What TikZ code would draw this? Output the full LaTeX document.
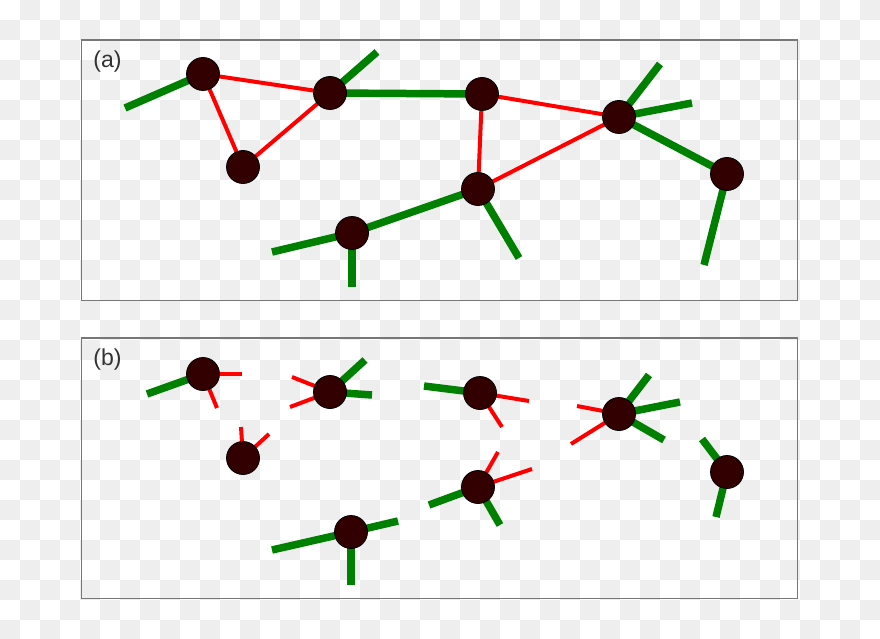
\documentclass[tikz,border=0pt]{standalone}
\usepackage{fontspec}
\setsansfont{Liberation Sans}
\definecolor{tilegray}{HTML}{EEEEEE}
\definecolor{framegray}{HTML}{777777}
\definecolor{atomred}{HTML}{330000}
\definecolor{bondgreen}{HTML}{008000}
\definecolor{bondred}{HTML}{FF0000}
\pgfdeclarelayer{board}
\pgfdeclarelayer{links}
\pgfsetlayers{board,links,main}

\begin{document}
\begin{tikzpicture}[x=1pt,y=-1pt]
\tikzset{atom/.style={circle,draw=black,fill=atomred,line width=0.8pt,minimum size=33pt,inner sep=0pt}}
\tikzset{strong/.style={draw=bondgreen,line width=7.5pt}}
\tikzset{weak/.style={draw=bondred,line width=4pt}}
\tikzset{panel/.style={draw=framegray,line width=1.5pt}}
\tikzset{tag/.style={font=\sffamily\fontsize{23}{23}\selectfont,text=black!80,inner sep=0pt}}
\useasboundingbox (0,0) rectangle (880,639);
\clip (0,0) rectangle (880,639);
% checker background
\begin{pgfonlayer}{board}
\foreach \i in {0,...,43}{
  \foreach \j in {0,...,31}{
    \pgfmathtruncatemacro\odd{mod(\i+\j,2)}
    \ifnum\odd=1 \fill[tilegray] (\i*20,\j*20) rectangle ++(20,20);\fi
  }
}
\end{pgfonlayer}
% panels
\draw[panel] (81.5,40) rectangle (797.5,300.5);
\draw[panel] (81.5,338) rectangle (797.5,598.5);
\node[tag] (taga) at (107.5,62) {(a)};
\node[tag] (tagb) at (107.5,360) {(b)};
% (a) joined network
\node[atom] (a1) at (203,74) {};
\node[atom] (a2) at (330,93) {};
\node[atom] (a3) at (243,167) {};
\node[atom] (a4) at (352,233) {};
\node[atom] (a5) at (482,94) {};
\node[atom] (a6) at (478,189) {};
\node[atom] (a7) at (619,117) {};
\node[atom] (a8) at (727,174) {};
\coordinate (a1l) at (125,108);
\coordinate (a2u) at (377,52);
\coordinate (a4l) at (272,252);
\coordinate (a4d) at (352,287);
\coordinate (a6d) at (519,258);
\coordinate (a7u) at (660,64);
\coordinate (a7r) at (692,103);
\coordinate (a8d) at (704,265);
% (b) broken network
\node[atom] (b1) at (203,374) {};
\node[atom] (b2) at (330,392) {};
\node[atom] (b3) at (243,458) {};
\node[atom] (b4) at (351,532) {};
\node[atom] (b5) at (480,393) {};
\node[atom] (b6) at (478,487) {};
\node[atom] (b7) at (619,414) {};
\node[atom] (b8) at (727,472) {};
\coordinate (b1l) at (147,394);
\coordinate (b1r) at (242,374);
\coordinate (b1d) at (217,408);
\coordinate (b2u) at (365,360);
\coordinate (b2r) at (372,395);
\coordinate (b2p) at (292,377);
\coordinate (b2q) at (290,407);
\coordinate (b3u) at (241,427);
\coordinate (b3r) at (269,434);
\coordinate (b4l) at (272,550);
\coordinate (b4r) at (398,521);
\coordinate (b4d) at (351,585);
\coordinate (b5l) at (424,386);
\coordinate (b5r) at (529,401);
\coordinate (b5d) at (502,427);
\coordinate (b6l) at (429,505);
\coordinate (b6d) at (500,525);
\coordinate (b6u) at (498,452);
\coordinate (b6r) at (532,469);
\coordinate (b7u) at (649,375);
\coordinate (b7r) at (680,402);
\coordinate (b7d) at (664,440);
\coordinate (b7p) at (577,406);
\coordinate (b7q) at (571,444);
\coordinate (b8u) at (702,439);
\coordinate (b8d) at (716,517);
\begin{pgfonlayer}{links}
\foreach \u/\v in {a1/a1l,a2/a2u,a2/a5,a4/a4l,a4/a4d,a4/a6,a6/a6d,a7/a7u,a7/a7r,a7/a8,a8/a8d,
    b1/b1l,b2/b2u,b2/b2r,b4/b4l,b4/b4r,b4/b4d,b5/b5l,b6/b6l,b6/b6d,b7/b7u,b7/b7r,b7/b7d,b8/b8u,b8/b8d}
  \draw[strong] (\u.center) -- (\v.center);
\foreach \u/\v in {a1/a2,a1/a3,a3/a2,a5/a6,a5/a7,a6/a7,
    b1/b1r,b1/b1d,b2/b2p,b2/b2q,b3/b3u,b3/b3r,b5/b5r,b5/b5d,b6/b6u,b6/b6r,b7/b7p,b7/b7q}
  \draw[weak] (\u.center) -- (\v.center);
\end{pgfonlayer}
\end{tikzpicture}
\end{document}
